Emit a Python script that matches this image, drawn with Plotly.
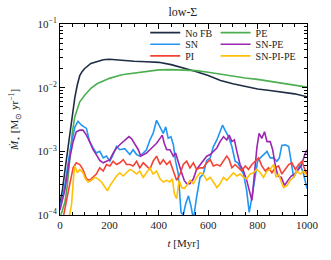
import plotly.graph_objects as go

# ---------------- data ----------------
t_nofb = [0, 10, 20, 30, 40, 50, 60, 70, 80, 90, 100, 125, 150, 175, 200, 225, 250, 300, 350,
          400, 450, 500, 550, 600, 650, 700, 750, 800, 850, 900, 950, 1000]
sfr_nofb = [1.5e-4, 2.5e-4, 5e-4, 1.0e-3, 2.1e-3, 4e-3, 7e-3, 1.1e-2, 1.55e-2, 1.8e-2, 2.0e-2,
            2.4e-2, 2.6e-2, 2.75e-2, 2.8e-2, 2.75e-2, 2.65e-2, 2.6e-2, 2.55e-2, 2.5e-2, 2.3e-2,
            2.05e-2, 1.8e-2, 1.55e-2, 1.3e-2, 1.15e-2, 1.05e-2, 9.5e-3, 9.0e-3, 8.5e-3, 8.0e-3, 7.2e-3]

t_pe = [0, 20, 30, 40, 50, 60, 70, 80, 100, 125, 150, 200, 250, 300, 350, 400, 450, 500, 550,
        600, 650, 700, 750, 800, 850, 900, 950, 1000]
sfr_pe = [0.9e-4, 1.6e-4, 3e-4, 8.7e-4, 2e-3, 3.5e-3, 4.8e-3, 6e-3, 7.6e-3, 9.8e-3, 1.15e-2,
          1.4e-2, 1.6e-2, 1.7e-2, 1.8e-2, 1.9e-2, 1.92e-2, 1.9e-2, 1.85e-2, 1.75e-2, 1.62e-2,
          1.5e-2, 1.42e-2, 1.35e-2, 1.26e-2, 1.18e-2, 1.1e-2, 1.02e-2]

t_sn = [0, 20, 40, 60, 73, 87, 107, 120, 134, 147, 161, 175, 188, 202, 215, 229, 242, 262, 283,
        296, 310, 323, 337, 350, 364, 377, 391, 400, 409, 418, 428, 438, 449, 459, 468, 479, 490,
        499, 509, 520, 530, 540, 553, 567, 580, 594, 608, 621, 635, 648, 658, 668, 682, 696, 709,
        720, 729, 743, 756, 766, 777, 790, 800, 811, 824, 838, 851, 865, 878, 888, 898, 912, 926,
        936, 946, 959, 973, 986, 1000]
sfr_sn = [1.3e-4, 3e-4, 1.0e-3, 2.4e-3, 2.96e-3, 2.57e-3, 2.29e-3, 1.42e-3, 1.13e-3, 0.94e-3,
          1.0e-3, 0.79e-3, 0.84e-3, 0.70e-3, 0.89e-3, 1.19e-3, 1.06e-3, 1.10e-3, 0.89e-3, 1.06e-3,
          0.89e-3, 0.84e-3, 0.94e-3, 1.06e-3, 1.51e-3, 1.91e-3, 3.07e-3, 2.57e-3, 2.29e-3, 1.91e-3,
          2.42e-3, 1.60e-3, 1.70e-3, 1.27e-3, 0.70e-3, 0.44e-3, 0.11e-3, 0.10e-3, 0.15e-3, 0.20e-3,
          0.14e-3, 0.085e-3, 0.19e-3, 0.39e-3, 0.44e-3, 0.72e-3, 0.79e-3, 1.19e-3, 1.51e-3, 2.03e-3,
          2.57e-3, 2.15e-3, 1.70e-3, 1.19e-3, 0.70e-3, 0.66e-3, 0.55e-3, 0.44e-3, 0.24e-3, 0.11e-3,
          0.19e-3, 0.44e-3, 0.70e-3, 0.79e-3, 0.89e-3, 1.0e-3, 0.79e-3, 0.79e-3, 0.70e-3, 0.79e-3,
          1.24e-3, 1.27e-3, 1.19e-3, 0.62e-3, 0.39e-3, 0.49e-3, 0.62e-3, 0.44e-3, 0.26e-3]

t_snpe = [0, 20, 40, 53, 66, 80, 93, 107, 120, 134, 147, 161, 175, 188, 202, 215, 229, 242, 256,
          269, 279, 290, 303, 317, 327, 337, 350, 364, 377, 391, 405, 414, 422, 432, 445, 459, 468,
          479, 490, 503, 513, 526, 540, 553, 567, 580, 594, 608, 621, 635, 648, 662, 675, 685, 696,
          706, 716, 729, 743, 756, 770, 777, 786, 797, 806, 817, 828, 838, 851, 861, 871, 882, 896,
          909, 923, 936, 950, 964, 977, 991, 1000]
sfr_snpe = [1.2e-4, 2.5e-4, 0.8e-3, 1.42e-3, 2.03e-3, 2.15e-3, 2.15e-3, 1.80e-3, 1.42e-3, 1.06e-3,
            0.89e-3, 0.72e-3, 0.66e-3, 0.69e-3, 0.74e-3, 0.94e-3, 1.13e-3, 1.27e-3, 1.42e-3,
            1.60e-3, 1.70e-3, 1.57e-3, 1.27e-3, 1.06e-3, 0.84e-3, 0.89e-3, 0.94e-3, 1.06e-3,
            1.19e-3, 1.34e-3, 1.60e-3, 1.80e-3, 1.34e-3, 1.06e-3, 1.06e-3, 0.84e-3, 0.94e-3,
            0.66e-3, 0.49e-3, 0.35e-3, 0.31e-3, 0.31e-3, 0.37e-3, 0.52e-3, 0.62e-3, 0.70e-3,
            0.84e-3, 0.89e-3, 1.0e-3, 1.13e-3, 1.42e-3, 1.70e-3, 1.51e-3, 1.80e-3, 1.42e-3,
            1.51e-3, 1.0e-3, 0.62e-3, 0.49e-3, 0.35e-3, 0.215e-3, 0.17e-3, 0.39e-3, 1.13e-3,
            1.91e-3, 1.60e-3, 2.03e-3, 1.42e-3, 1.42e-3, 1.06e-3, 0.62e-3, 0.41e-3, 0.39e-3,
            0.29e-3, 0.35e-3, 0.41e-3, 0.44e-3, 0.52e-3, 0.59e-3, 0.89e-3, 1.06e-3]

t_pi = [0, 15, 30, 45, 53, 66, 80, 93, 107, 120, 134, 147, 161, 175, 188, 202, 215, 229, 242, 256,
        269, 283, 296, 310, 323, 337, 350, 364, 377, 391, 405, 418, 432, 445, 459, 472, 486, 499,
        513, 526, 540, 553, 567, 580, 594, 608, 621, 635, 648, 662, 675, 685, 696, 709, 723, 736,
        750, 763, 777, 790, 804, 817, 831, 844, 858, 871, 885, 898, 912, 926, 939, 953, 966, 980,
        991, 1000]
sfr_pi = [0.7e-4, 1.0e-4, 2.0e-4, 4.0e-4, 0.55e-3, 0.66e-3, 0.62e-3, 0.52e-3, 0.37e-3, 0.35e-3,
          0.39e-3, 0.44e-3, 0.55e-3, 0.49e-3, 0.62e-3, 0.59e-3, 0.70e-3, 0.62e-3, 0.66e-3,
          0.74e-3, 0.62e-3, 0.62e-3, 0.59e-3, 0.70e-3, 0.55e-3, 0.66e-3, 0.59e-3, 0.52e-3,
          0.70e-3, 0.84e-3, 0.62e-3, 0.74e-3, 0.62e-3, 0.70e-3, 0.49e-3, 0.35e-3, 0.44e-3,
          0.62e-3, 0.70e-3, 0.55e-3, 0.66e-3, 0.52e-3, 0.55e-3, 0.55e-3, 0.66e-3, 0.74e-3,
          0.59e-3, 0.62e-3, 0.59e-3, 0.70e-3, 0.84e-3, 0.74e-3, 0.55e-3, 0.62e-3, 0.55e-3,
          0.49e-3, 0.59e-3, 0.52e-3, 0.62e-3, 0.70e-3, 0.79e-3, 0.59e-3, 0.49e-3, 0.55e-3,
          0.46e-3, 0.55e-3, 0.59e-3, 0.44e-3, 0.52e-3, 0.62e-3, 0.66e-3, 0.52e-3, 0.62e-3,
          0.70e-3, 0.52e-3, 0.44e-3]

t_snpipe = [0, 25, 39, 47, 55, 60, 70, 80, 93, 103, 114, 127, 141, 154, 168, 181, 192, 202, 215,
            229, 242, 256, 269, 283, 296, 310, 323, 337, 350, 364, 377, 391, 405, 418, 432, 445,
            455, 463, 472, 482, 493, 503, 513, 526, 540, 553, 567, 580, 594, 608, 621, 635, 648,
            662, 675, 689, 702, 716, 729, 743, 756, 770, 783, 797, 811, 824, 838, 851, 865, 875,
            885, 896, 905, 919, 932, 946, 959, 973, 986, 1000]
sfr_snpipe = [0.6e-4, 0.9e-4, 1.0e-4, 1.5e-4, 0.4e-3, 0.59e-3, 0.46e-3, 0.52e-3, 0.46e-3,
              0.37e-3, 0.33e-3, 0.35e-3, 0.39e-3, 0.37e-3, 0.33e-3, 0.27e-3, 0.24e-3, 0.29e-3,
              0.35e-3, 0.41e-3, 0.46e-3, 0.41e-3, 0.46e-3, 0.52e-3, 0.49e-3, 0.44e-3, 0.49e-3,
              0.39e-3, 0.46e-3, 0.55e-3, 0.44e-3, 0.49e-3, 0.37e-3, 0.33e-3, 0.35e-3, 0.33e-3,
              0.37e-3, 0.215e-3, 0.18e-3, 0.35e-3, 0.27e-3, 0.26e-3, 0.29e-3, 0.35e-3, 0.31e-3,
              0.39e-3, 0.46e-3, 0.44e-3, 0.35e-3, 0.39e-3, 0.33e-3, 0.27e-3, 0.31e-3, 0.39e-3,
              0.35e-3, 0.41e-3, 0.46e-3, 0.41e-3, 0.44e-3, 0.39e-3, 0.37e-3, 0.44e-3, 0.46e-3,
              0.52e-3, 0.46e-3, 0.39e-3, 0.49e-3, 0.52e-3, 0.62e-3, 0.39e-3, 0.44e-3, 0.33e-3,
              0.27e-3, 0.29e-3, 0.35e-3, 0.39e-3, 0.49e-3, 0.44e-3, 0.49e-3, 0.41e-3]

series_names = ["No FB", "SN", "PI", "PE", "SN-PE", "SN-PI-PE"]
y_tickvals = [1e-4, 1e-3, 1e-2, 1e-1]
y_ticktext = ["10<sup>−4</sup>", "10<sup>−3</sup>", "10<sup>−2</sup>", "10<sup>−1</sup>"]
x_tickvals = [0, 200, 400, 600, 800, 1000]

# ---------------- styling ----------------
FONT = "Liberation Serif"
colors = {"No FB": "#1f2d44", "SN": "#2196f3", "PI": "#f44336",
          "PE": "#4caf50", "SN-PE": "#9c27b0", "SN-PI-PE": "#ffc107"}
data = {"No FB": (t_nofb, sfr_nofb), "SN": (t_sn, sfr_sn), "PI": (t_pi, sfr_pi),
        "PE": (t_pe, sfr_pe), "SN-PE": (t_snpe, sfr_snpe), "SN-PI-PE": (t_snpipe, sfr_snpipe)}
legend_ids = {"No FB": "legend", "SN": "legend2", "PI": "legend3",
              "PE": "legend4", "SN-PE": "legend5", "SN-PI-PE": "legend6"}
draw_order = ["No FB", "PE", "SN", "SN-PE", "PI", "SN-PI-PE"]

fig = go.Figure()
for name in draw_order:
    t, v = data[name]
    fig.add_trace(go.Scatter(x=t, y=v, mode="lines", name=name, showlegend=True,
                             line=dict(color=colors[name], width=1.6),
                             legend=legend_ids[name]))

# legend placement: two columns x three rows
col_x = [0.345, 0.63]
row_y = [0.955, 0.894, 0.833]
legend_layout = {}
for i, name in enumerate(series_names):
    col, row = divmod(i, 3)
    legend_layout[legend_ids[name]] = dict(
        x=col_x[col], y=row_y[row], xanchor="left", yanchor="middle",
        bgcolor="rgba(0,0,0,0)", borderwidth=0,
        font=dict(family=FONT, size=10, color="#222"))

axis_common = dict(showline=True, linecolor="black", linewidth=1.1, mirror="ticks",
                   ticks="inside", ticklen=4.5, tickwidth=1, tickcolor="black",
                   showgrid=False, zeroline=False,
                   tickfont=dict(family=FONT, size=11, color="#222"))

fig.update_layout(
    width=331, height=260,
    margin=dict(l=60, r=24, t=24, b=38),
    paper_bgcolor="white", plot_bgcolor="white",
    showlegend=True,
    title=dict(text="low-Σ", x=0.5525, xanchor="center", y=0.955, yanchor="middle",
               font=dict(family=FONT, size=12, color="#222")),
    xaxis=dict(range=[0, 1000], tickvals=x_tickvals,
               title=dict(text="<i>t</i> [Myr]", font=dict(family=FONT, size=11, color="#222"),
                          standoff=9),
               minor=dict(ticks="inside", dtick=50, ticklen=2.5, tickwidth=0.8,
                          tickcolor="black", showgrid=False),
               **axis_common),
    yaxis=dict(type="log", range=[-4, -1], tickvals=y_tickvals, ticktext=y_ticktext,
               title=dict(text="<i>M\u0307</i><sub>⋆</sub> [M<sub>⊙</sub> yr<sup>−1</sup>]",
                          font=dict(family=FONT, size=11, color="#222"), standoff=16),
               minor=dict(ticks="inside", dtick="D1", ticklen=2.5, tickwidth=0.8,
                          tickcolor="black", showgrid=False),
               **axis_common),
    **legend_layout,
)

fig.write_html("out.html", config={"displayModeBar": False},
               post_script="document.body.style.margin='0';document.body.style.padding='0';")
